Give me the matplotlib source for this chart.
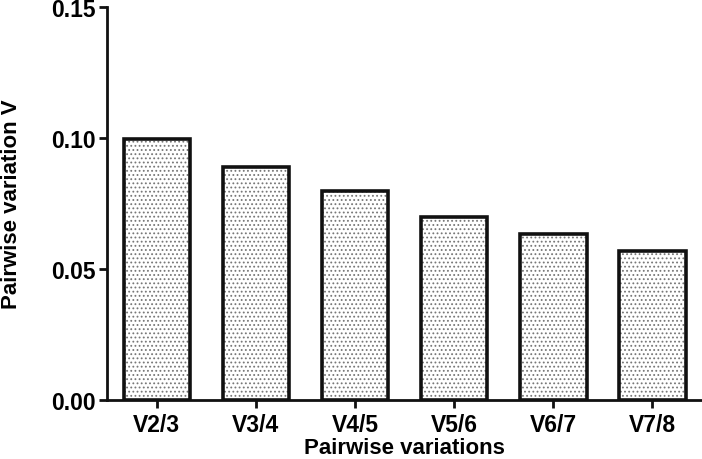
import numpy as np
import matplotlib
matplotlib.use('Agg')
import matplotlib.pyplot as plt

matplotlib.rcParams['font.family'] = ['Liberation Sans', 'DejaVu Sans']
matplotlib.rcParams['font.weight'] = 'bold'
matplotlib.rcParams['hatch.linewidth'] = 0.8

categories = ['V2/3', 'V3/4', 'V4/5', 'V5/6', 'V6/7', 'V7/8']
values = [0.0997, 0.0889, 0.0798, 0.0697, 0.0632, 0.0570]
y_ticks = [0.00, 0.05, 0.10, 0.15]


def main():
    fig = plt.figure(figsize=(7.02, 4.6), dpi=100)
    ax = fig.add_axes([0.152, 0.128, 0.848, 0.855])

    x = np.arange(len(categories))
    # hatch fill in grey, then black outline on top
    ax.bar(x, values, width=0.67, color='white', edgecolor='#777777',
           hatch='....', linewidth=0, zorder=2)
    ax.bar(x, values, width=0.67, fill=False, edgecolor='#111111',
           linewidth=2.6, zorder=3)

    ax.set_xlim(-0.505, 5.5)
    ax.set_ylim(0, 0.15)
    ax.set_yticks(y_ticks)
    ax.set_yticklabels(['%.2f' % t for t in y_ticks])
    ax.set_xticks(x)
    ax.set_xticklabels(categories)

    for side in ['top', 'right']:
        ax.spines[side].set_visible(False)
    for side in ['left', 'bottom']:
        ax.spines[side].set_linewidth(2)
        ax.spines[side].set_color('#111111')
    ax.tick_params(axis='both', width=2, length=6, labelsize=16.5, color='#111111')
    ax.tick_params(axis='x', pad=3)
    ax.tick_params(axis='y', pad=2)

    ax.set_xlabel('Pairwise variations', fontsize=16, fontweight='bold', labelpad=1)
    ax.set_ylabel('Pairwise variation V', fontsize=16, fontweight='bold', labelpad=21)

    fig.savefig('out.png', dpi=100)
    plt.close(fig)


if __name__ == '__main__':
    main()
